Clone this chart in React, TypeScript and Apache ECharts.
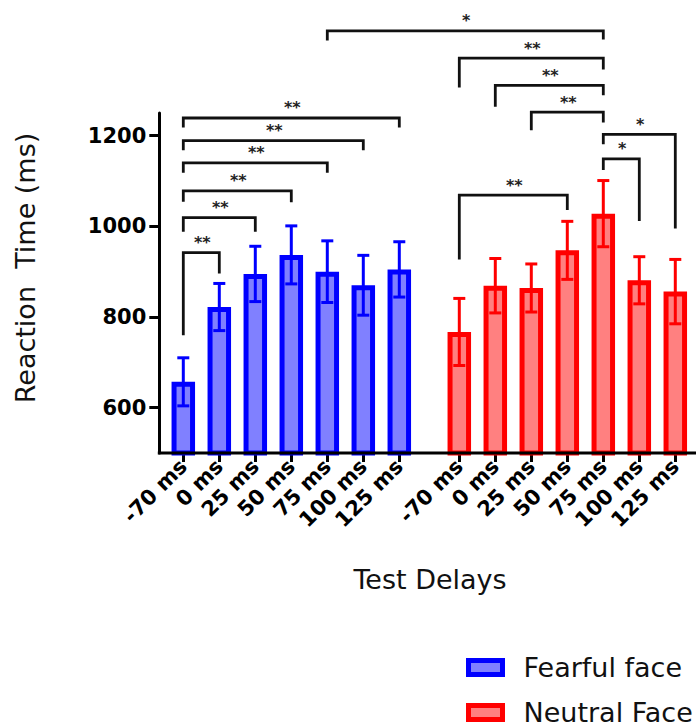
import React, { useEffect, useRef } from 'react';
import * as echarts from 'echarts';

const delays = ['-70 ms', '0 ms', '25 ms', '50 ms', '75 ms', '100 ms', '125 ms'];
const fearfulMean = [657, 822, 895, 937, 900, 870, 905];
const fearfulErr = [53, 52, 61, 64, 68, 66, 61];
const neutralMean = [767, 869, 864, 947, 1028, 881, 856];
const neutralErr = [74, 60, 53, 64, 73, 52, 71];
const yTicks = [600, 800, 1000, 1200];

// significance brackets: [grid, index] of each end, height of the bar, height of each end, label
const bracketFrom = [[0, 0], [0, 0], [0, 0], [0, 0], [0, 0], [0, 0], [0, 4], [1, 0], [1, 1], [1, 2], [1, 4], [1, 4], [1, 0]];
const bracketTo = [[0, 1], [0, 2], [0, 3], [0, 4], [0, 5], [0, 6], [1, 4], [1, 4], [1, 4], [1, 4], [1, 6], [1, 5], [1, 3]];
const bracketTop = [942, 1019, 1078, 1140, 1189, 1239, 1431, 1371, 1311, 1252, 1203, 1149, 1069];
const bracketLeftEnd = [760, 988, 1054, 1118, 1168, 1218, 1410, 1306, 1264, 1212, 1181, 1124, 927];
const bracketRightEnd = [896, 988, 1053, 1118, 1168, 1218, 1412, 1346, 1289, 1229, 995, 1012, 1036];
const bracketLabel = ['**', '**', '**', '**', '**', '**', '*', '**', '**', '**', '*', '*', '**'];

const FONT = '"DejaVu Sans", sans-serif';
const BLUE = '#0000FF';
const BLUE_FILL = '#8080FF';
const RED = '#FF0000';
const RED_FILL = '#FF8080';

function errorBarRender(color: string) {
  return (params: any, api: any) => {
    const i = api.value(0);
    const m = api.value(1);
    const e = api.value(2);
    const top = api.coord([i, m + e]);
    const bot = api.coord([i, m - e]);
    const half = 6;
    const style = { stroke: color, lineWidth: 3, fill: null };
    return {
      type: 'group',
      children: [
        { type: 'line', shape: { x1: top[0], y1: top[1], x2: bot[0], y2: bot[1] }, style },
        { type: 'line', shape: { x1: top[0] - half, y1: top[1], x2: top[0] + half, y2: top[1] }, style },
        { type: 'line', shape: { x1: bot[0] - half, y1: bot[1], x2: bot[0] + half, y2: bot[1] }, style },
      ],
    };
  };
}

export default function App() {
  const ref = useRef<HTMLDivElement>(null);
  useEffect(() => {
    document.body.style.margin = '0';
    const chart = echarts.init(ref.current!, null, { renderer: 'svg' });
    const xAxisBase = (gridIndex: number) => ({
      type: 'category',
      gridIndex,
      data: delays,
      axisLine: { show: false },
      axisTick: { show: true, alignWithLabel: true, interval: 0, length: 9, lineStyle: { color: '#000', width: 3 } },
      axisLabel: { interval: 0, rotate: 45, fontFamily: FONT, fontWeight: 'bold', fontSize: 21, color: '#000', margin: 10 },
      splitLine: { show: false },
    });
    const yAxisBase = (gridIndex: number, show: boolean) => ({
      type: 'value',
      gridIndex,
      min: 500,
      max: 1250,
      show,
      offset: 6,
      axisLine: { show: true, lineStyle: { color: '#000', width: 3 } },
      axisTick: { show: true, length: 10, customValues: yTicks, lineStyle: { color: '#000', width: 3 } },
      axisLabel: {
        customValues: yTicks,
        formatter: (v: number) => String(v),
        fontFamily: FONT,
        fontWeight: 'bold',
        fontSize: 21,
        color: '#000',
        margin: 13,
      },
      splitLine: { show: false },
    });
    const option: any = {
      animation: false,
      backgroundColor: '#fff',
      grid: [
        { left: 165.3, top: 113, width: 252, height: 340, containLabel: false, outerBoundsMode: 'none' },
        { left: 441.3, top: 113, width: 252, height: 340, containLabel: false, outerBoundsMode: 'none' },
      ],
      xAxis: [xAxisBase(0), xAxisBase(1)],
      yAxis: [yAxisBase(0, true), yAxisBase(1, false)],
      legend: {
        orient: 'vertical',
        left: 466,
        top: 652.5,
        width: 400,
        height: 200,
        padding: 0,
        itemWidth: 34,
        itemHeight: 14,
        itemGap: 15,
        selectedMode: false,
        textStyle: { fontFamily: FONT, fontSize: 27, color: '#111', lineHeight: 30, padding: [0, 0, 0, 16] },
        data: [
          { name: 'Fearful face', icon: 'rect', itemStyle: { color: BLUE_FILL, borderColor: BLUE, borderWidth: 5 } },
          { name: 'Neutral Face', icon: 'rect', itemStyle: { color: RED_FILL, borderColor: RED, borderWidth: 5 } },
        ],
      },
      series: [
        {
          name: 'Fearful face',
          type: 'bar',
          xAxisIndex: 0,
          yAxisIndex: 0,
          barWidth: 23.5,
          itemStyle: { color: BLUE_FILL, borderColor: BLUE, borderWidth: 5 },
          data: fearfulMean,
        },
        {
          name: 'Neutral Face',
          type: 'bar',
          xAxisIndex: 1,
          yAxisIndex: 1,
          barWidth: 23.5,
          itemStyle: { color: RED_FILL, borderColor: RED, borderWidth: 5 },
          data: neutralMean,
        },
        {
          name: 'fearfulErr',
          type: 'custom',
          xAxisIndex: 0,
          yAxisIndex: 0,
          z: 5,
          renderItem: errorBarRender(BLUE),
          data: fearfulMean.map((m, i) => [i, m, fearfulErr[i]]),
        },
        {
          name: 'neutralErr',
          type: 'custom',
          xAxisIndex: 1,
          yAxisIndex: 1,
          z: 5,
          renderItem: errorBarRender(RED),
          data: neutralMean.map((m, i) => [i, m, neutralErr[i]]),
        },
      ],
    };
    chart.setOption(option);

    const px = (g: number, i: number, v: number) => chart.convertToPixel({ gridIndex: g }, [i, v]) as number[];
    const graphics: any[] = [];
    const base = px(0, 0, 500);
    const leftX = 165.3 - 6 - 1.5;
    graphics.push({
      type: 'line',
      z: 20,
      shape: { x1: leftX, y1: base[1], x2: 720, y2: base[1] },
      style: { stroke: '#000', lineWidth: 3 },
    });
    bracketFrom.forEach((f, k) => {
      const t = bracketTo[k];
      const a = px(f[0], f[1], bracketLeftEnd[k]);
      const top1 = px(f[0], f[1], bracketTop[k]);
      const b = px(t[0], t[1], bracketRightEnd[k]);
      const top2 = px(t[0], t[1], bracketTop[k]);
      graphics.push({
        type: 'polyline',
        z: 20,
        shape: { points: [[a[0], a[1]], [top1[0], top1[1]], [top2[0], top2[1]], [b[0], b[1]]] },
        style: { stroke: '#111', lineWidth: 2.8, fill: null, lineJoin: 'miter' },
      });
      graphics.push({
        type: 'text',
        z: 20,
        x: (top1[0] + top2[0]) / 2 + 1,
        y: top1[1] - 10,
        style: {
          text: bracketLabel[k],
          fontFamily: FONT,
          fontWeight: 'bold',
          fontSize: 16,
          fill: '#222',
          align: 'center',
          verticalAlign: 'middle',
          textAlign: 'center',
          textVerticalAlign: 'middle',
        },
      });
    });
    graphics.push({
      type: 'text',
      x: 25,
      y: 268,
      rotation: Math.PI / 2,
      style: {
        text: 'Reaction  Time (ms)',
        fontFamily: FONT,
        fontSize: 27,
        fill: '#111',
        align: 'center',
        verticalAlign: 'middle',
        textAlign: 'center',
        textVerticalAlign: 'middle',
      },
    });
    graphics.push({
      type: 'text',
      x: 430,
      y: 579,
      style: {
        text: 'Test Delays',
        fontFamily: FONT,
        fontSize: 27,
        fill: '#111',
        align: 'center',
        verticalAlign: 'middle',
        textAlign: 'center',
        textVerticalAlign: 'middle',
      },
    });
    chart.setOption({ graphic: graphics });
    return () => chart.dispose();
  }, []);
  return <div ref={ref} style={{ width: 696, height: 725 }} />;
}
